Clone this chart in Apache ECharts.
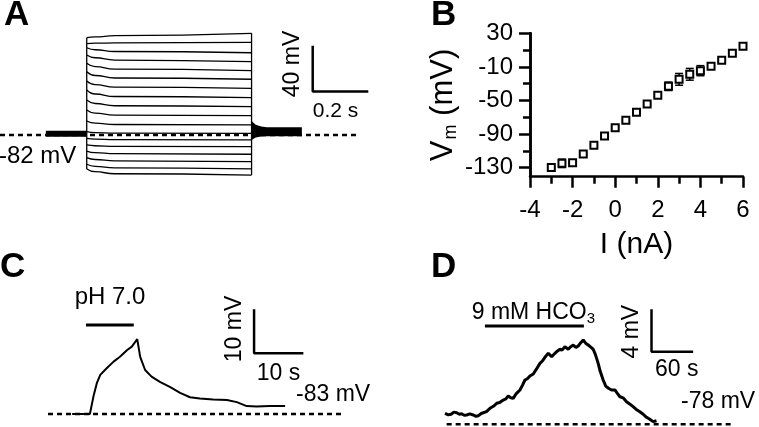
<!DOCTYPE html>
<html>
<head>
<meta charset="utf-8">
<script src="https://cdn.jsdelivr.net/npm/echarts@6/dist/echarts.min.js"></script>
<style>
  html, body { margin: 0; padding: 0; background: #fff; }
  #chart { width: 759px; height: 427px; }
</style>
</head>
<body>
<div id="chart"></div>
<script>
  const FONT = '"Liberation Sans", Arial, Helvetica, sans-serif'

  // ---- panel A: voltage responses to current steps (s, mV)
  const stepTimes = [0.312, 0.342, 0.412, 0.905]
  const stepTraces = [
    [3.8, 4.5, 5.5, 7.6],
    [-1.5, -1.0, -0.8, -0.3],
    [-5.0, -6.8, -8.3, -9.4],
    [-11.4, -13.8, -15.8, -17.2],
    [-18.6, -21.5, -23.8, -25.1],
    [-26.0, -29.3, -31.5, -32.6],
    [-34.1, -37.3, -39.5, -40.5],
    [-42.0, -45.5, -47.7, -48.7],
    [-50.7, -53.8, -55.8, -56.6],
    [-59.5, -62.3, -63.9, -64.5],
    [-69.1, -71.0, -72.2, -72.6],
    [-78.5, -79.3, -79.8, -79.9],
    [-84.3, -85.0, -85.5, -85.7],
    [-90.1, -90.8, -91.3, -91.6],
    [-95.4, -96.8, -97.7, -98.2],
    [-101.2, -102.8, -104.0, -104.7],
    [-107.0, -108.8, -110.2, -111.1],
    [-111.1, -113.5, -115.3, -116.4],
  ]
  const holdPreT = [0.165, 0.312]
  const holdV = -80.2
  const tailT = [0.905, 0.92, 0.94, 0.96, 1.086]
  const tailTop = [-69.2, -72.5, -74.0, -74.5, -74.5]
  const tailBot = [-85.7, -83.5, -82.6, -82.4, -82.4]
  const baseA = { t: [0, 1.284], v: -81.4 }
  const scaleA = { t: [1.125, 1.325], v: [-43.3, -3.3] }

  // ---- panel B: I-V relation
  const currentNA = [-3, -2.5, -2, -1.5, -1, -0.5, 0, 0.5, 1, 1.5, 2, 2.5, 3, 3.5, 4, 4.5, 5, 5.5, 6]
  const vmMean = [-129.6, -124.8, -124, -113.7, -103.4, -92.3, -82.3, -73.6, -64.1, -54.2, -43.8, -33.1, -24.8, -18.8, -14.5, -9.3, -2.2, 6.2, 14.5]
  const vmErr = [1, 5, 1, 1, 1, 1, 1, 1, 1, 1, 1, 5, 7, 7, 6, 1, 1, 1, 1]
  const yMajor = [-130, -90, -50, -10, 30]
  const yMinor = [-110, -70, -30, 10]

  // ---- panel C: pH 7.0 response (s, mV)
  const phT = [4.9, 8.5, 9.2, 9.9, 10.6, 11.9, 13.3, 14.6, 16.0, 17.0, 18.1, 18.7, 19.7, 21.0, 22.7, 24.8, 26.8, 28.8, 30.8, 33.5, 36.3, 38.3, 40.3, 42.3, 45.0, 48.1]
  const phV = [-83, -83, -79.1, -76.0, -74.1, -72.6, -71.1, -70.0, -68.5, -67.7, -66.0, -70.0, -73.0, -74.5, -75.7, -76.9, -78.2, -79.2, -79.5, -79.7, -79.8, -80.3, -81.2, -81.3, -81.2, -81.2]
  const phBar = { t: [7.7, 17.4], v: -62.8 }
  const baseC = { t: [0, 59.9], v: -83 }
  const scaleC = { t: [41.8, 51.8], v: [-69.2, -59.2] }

  // ---- panel D: 9 mM HCO3 response (s, mV)
  const hcoT = [7.2, 12, 16, 20, 24.1, 28, 31, 35, 38.5, 43, 48.0, 52, 55, 59, 62.4, 67, 72.0, 77, 81.7, 86, 91.2, 95, 98.4, 102, 105.6, 110, 115.3, 119, 122.5, 126, 129.7, 134.5, 139, 144.1, 148, 151.3, 156.1, 161.0, 165.7, 169, 172.9, 176, 180.1, 184.9, 188, 192.1, 196, 199.3, 203, 206.5, 210, 213.7, 217, 220.9, 224, 228.1, 231, 235.3, 239, 242.9, 247.4, 252.2, 256, 259.4, 264, 269.0, 274, 278.5, 283, 288.2, 293, 297.8, 302, 307.3, 312.2]
  const hcoV = [-76.96, -77.1, -77.05, -76.85, -76.91, -77.05, -77.0, -77.15, -77.12, -77.02, -77.12, -77.25, -77.2, -77.0, -76.91, -76.8, -76.49, -76.3, -76.02, -75.95, -75.71, -75.6, -75.33, -75.5, -75.55, -75.1, -74.76, -74.3, -73.82, -73.7, -73.44, -73.25, -72.8, -72.25, -72.0, -71.68, -71.3, -71.62, -71.3, -71.1, -70.92, -71.0, -70.68, -70.92, -70.7, -70.52, -70.75, -70.61, -70.3, -70.05, -70.35, -70.52, -70.7, -70.92, -71.4, -72.25, -73.0, -73.82, -74.4, -74.6, -74.76, -74.76, -75.1, -75.4, -75.5, -75.87, -76.1, -76.34, -76.6, -76.81, -77.05, -77.34, -77.5, -77.75, -77.66]
  const hcoBar = { t: [64.8, 207.5], v: -68.73 }
  const baseD = { t: [9.6, 422.6], v: -78 }
  const scaleD = { t: [305, 365], v: [-71.15, -67.15] }

  const black = '#000'
  const chart = echarts.init(document.getElementById('chart'))

  function lineSeries(xi, data, width, extra) {
    return Object.assign({
      type: 'line',
      xAxisIndex: xi,
      yAxisIndex: xi,
      data: data,
      showSymbol: false,
      symbol: 'none',
      silent: true,
      animation: false,
      lineStyle: { color: black, width: width },
    }, extra || {})
  }
  const dashed = { z: 5, lineStyle: { color: black, width: 2.5, type: [5, 4] } }

  const series = []
  // A
  stepTraces.forEach((tr) => {
    series.push(lineSeries(0, stepTimes.map((t, i) => [t, tr[i]]), 1.3, { smooth: true, smoothMonotone: 'x' }))
  })
  const starts = stepTraces.map((tr) => tr[0])
  const ends = stepTraces.map((tr) => tr[tr.length - 1])
  series.push(lineSeries(0, [[stepTimes[0], Math.max(...starts)], [stepTimes[0], Math.min(...starts)]], 1.3))
  series.push(lineSeries(0, [[stepTimes[3], Math.max(...ends)], [stepTimes[3], Math.min(...ends)]], 1.3))
  series.push(lineSeries(0, holdPreT.map((t) => [t, holdV]), 6))
  series.push({
    type: 'custom',
    xAxisIndex: 0,
    yAxisIndex: 0,
    silent: true,
    animation: false,
    data: [[0, 0]],
    renderItem: (params, api) => {
      const pts = tailT.map((t, i) => api.coord([t, tailTop[i]]))
      for (let i = tailT.length - 1; i >= 0; i--) pts.push(api.coord([tailT[i], tailBot[i]]))
      return { type: 'polygon', shape: { points: pts }, style: { fill: black } }
    },
  })
  series.push(lineSeries(0, baseA.t.map((t) => [t, baseA.v]), 2.5, dashed))
  series.push(lineSeries(0, [[scaleA.t[1], scaleA.v[0]], [scaleA.t[0], scaleA.v[0]], [scaleA.t[0], scaleA.v[1]]], 2.5))

  // B
  series.push({
    type: 'custom',
    xAxisIndex: 1,
    yAxisIndex: 1,
    silent: true,
    animation: false,
    data: currentNA.map((x, i) => [x, vmMean[i], vmErr[i]]),
    encode: { x: 0, y: 1 },
    renderItem: (params, api) => {
      const x = api.value(0), y = api.value(1), e = api.value(2)
      const top = api.coord([x, y + e])
      const bot = api.coord([x, y - e])
      const st = { stroke: black, lineWidth: 1.5 }
      return {
        type: 'group',
        children: [
          { type: 'line', shape: { x1: top[0], y1: top[1], x2: bot[0], y2: bot[1] }, style: st },
          { type: 'line', shape: { x1: top[0] - 4, y1: top[1], x2: top[0] + 4, y2: top[1] }, style: st },
          { type: 'line', shape: { x1: bot[0] - 4, y1: bot[1], x2: bot[0] + 4, y2: bot[1] }, style: st },
        ],
      }
    },
  })
  series.push({
    type: 'scatter',
    xAxisIndex: 1,
    yAxisIndex: 1,
    z: 4,
    silent: true,
    animation: false,
    symbol: 'rect',
    symbolSize: 7,
    itemStyle: { color: '#fff', borderColor: black, borderWidth: 2, opacity: 1 },
    data: currentNA.map((x, i) => [x, vmMean[i]]),
  })

  // C
  series.push(lineSeries(2, phT.map((t, i) => [t, phV[i]]), 2))
  series.push(lineSeries(2, phBar.t.map((t) => [t, phBar.v]), 3))
  series.push(lineSeries(2, baseC.t.map((t) => [t, baseC.v]), 2.5, dashed))
  series.push(lineSeries(2, [[scaleC.t[1], scaleC.v[0]], [scaleC.t[0], scaleC.v[0]], [scaleC.t[0], scaleC.v[1]]], 2.5))

  // D
  series.push(lineSeries(3, hcoT.map((t, i) => [t, hcoV[i]]), 3))
  series.push(lineSeries(3, hcoBar.t.map((t) => [t, hcoBar.v]), 3))
  series.push(lineSeries(3, baseD.t.map((t) => [t, baseD.v]), 2.5, dashed))
  series.push(lineSeries(3, [[scaleD.t[1], scaleD.v[0]], [scaleD.t[0], scaleD.v[0]], [scaleD.t[0], scaleD.v[1]]], 2.5))

  const hidden = (gi, min, max) => ({ type: 'value', gridIndex: gi, min: min, max: max, show: false })
  const axLine = { show: true, onZero: false, lineStyle: { color: black, width: 2.5 } }

  function txt(text, x, y, size, opts) {
    return Object.assign({
      type: 'text',
      x: x,
      y: y,
      silent: true,
      style: Object.assign({
        text: text,
        fill: black,
        font: size + 'px ' + FONT,
        align: 'left',
        verticalAlign: 'middle',
      }, (opts && opts.style) || {}),
    }, (opts && opts.el) || {})
  }
  const bold = (t, x, y) => txt(t, x, y, 35, { style: { font: 'bold 35px ' + FONT } })
  const rot = (t, x, y, size) => txt(t, x, y, size, { style: { align: 'center' }, el: { rotation: Math.PI / 2 } })
  const mid = { style: { align: 'center' } }

  chart.setOption({
    backgroundColor: '#fff',
    animation: false,
    grid: [
      { left: 0, top: 26, width: 369.7, height: 160 },
      { left: 530, top: 33.3, width: 213, height: 143.4 },
      { left: 48, top: 304, width: 320.45, height: 114.4 },
      { left: 440, top: 299.75, width: 319.2, height: 127.2 },
    ],
    xAxis: [
      hidden(0, 0, 1.33),
      {
        type: 'value',
        gridIndex: 1,
        min: -4,
        max: 6,
        interval: 2,
        axisLine: axLine,
        axisTick: { show: true, length: 11, lineStyle: { color: black, width: 2.5 } },
        minorTick: { show: true, splitNumber: 2, length: 7, lineStyle: { color: black, width: 2.5 } },
        splitLine: { show: false },
        axisLabel: { color: black, fontSize: 24, fontFamily: FONT, margin: 22 },
        name: 'I (nA)',
        nameLocation: 'middle',
        nameGap: 53,
        nameTextStyle: { color: black, fontSize: 30, fontFamily: FONT, verticalAlign: 'top' },
      },
      hidden(2, 0, 65),
      hidden(3, 0, 460),
    ],
    yAxis: [
      hidden(0, -126, 14),
      {
        type: 'value',
        gridIndex: 1,
        min: -140.7,
        max: 30,
        axisLine: axLine,
        axisTick: { show: true, length: 11, customValues: yMajor, lineStyle: { color: black, width: 2.5 } },
        splitLine: { show: false },
        axisLabel: { color: black, fontSize: 24, fontFamily: FONT, margin: 17, customValues: yMajor },
        name: '{a|V}{b|m}{a| (mV)}',
        nameLocation: 'middle',
        nameRotate: 90,
        nameGap: 70,
        nameTextStyle: {
          color: black,
          fontFamily: FONT,
          rich: {
            a: { fontSize: 31, fontFamily: FONT, color: black },
            b: { fontSize: 18, fontFamily: FONT, color: black, padding: [16, 0, 0, 1] },
          },
        },
      },
      hidden(2, -84, -58),
      hidden(3, -78.25, -66.25),
      {
        type: 'value',
        gridIndex: 1,
        position: 'left',
        min: -140.7,
        max: 30,
        axisLine: axLine,
        axisTick: { show: true, length: 7, customValues: yMinor, lineStyle: { color: black, width: 2.5 } },
        axisLabel: { show: false },
        splitLine: { show: false },
      },
    ],
    graphic: [
      bold('A', 4, 15.8),
      bold('B', 431, 15.8),
      bold('C', 0, 267.5),
      bold('D', 431, 267.5),
      txt('-82 mV', -1, 156, 24),
      rot('40 mV', 293, 64, 23),
      txt('0.2 s', 335.5, 111, 21, mid),
      txt('pH 7.0', 110, 297, 24, mid),
      rot('10 mV', 235, 329, 23),
      txt('10 s', 278.5, 373.5, 23, mid),
      txt('-83 mV', 296, 394.2, 23),
      {
        type: 'text',
        x: 471.7,
        y: 313,
        silent: true,
        style: {
          text: '{a|9 mM HCO}{b|3}',
          fill: black,
          verticalAlign: 'middle',
          rich: {
            a: { fontSize: 23, fontFamily: FONT, fill: black },
            b: { fontSize: 15, fontFamily: FONT, fill: black, padding: [12, 0, 0, 0] },
          },
        },
      },
      rot('4 mV', 632, 331.7, 23),
      txt('60 s', 676.7, 370, 23, mid),
      txt('-78 mV', 681, 401.7, 23),
    ],
    series: series,
  })
</script>
</body>
</html>
